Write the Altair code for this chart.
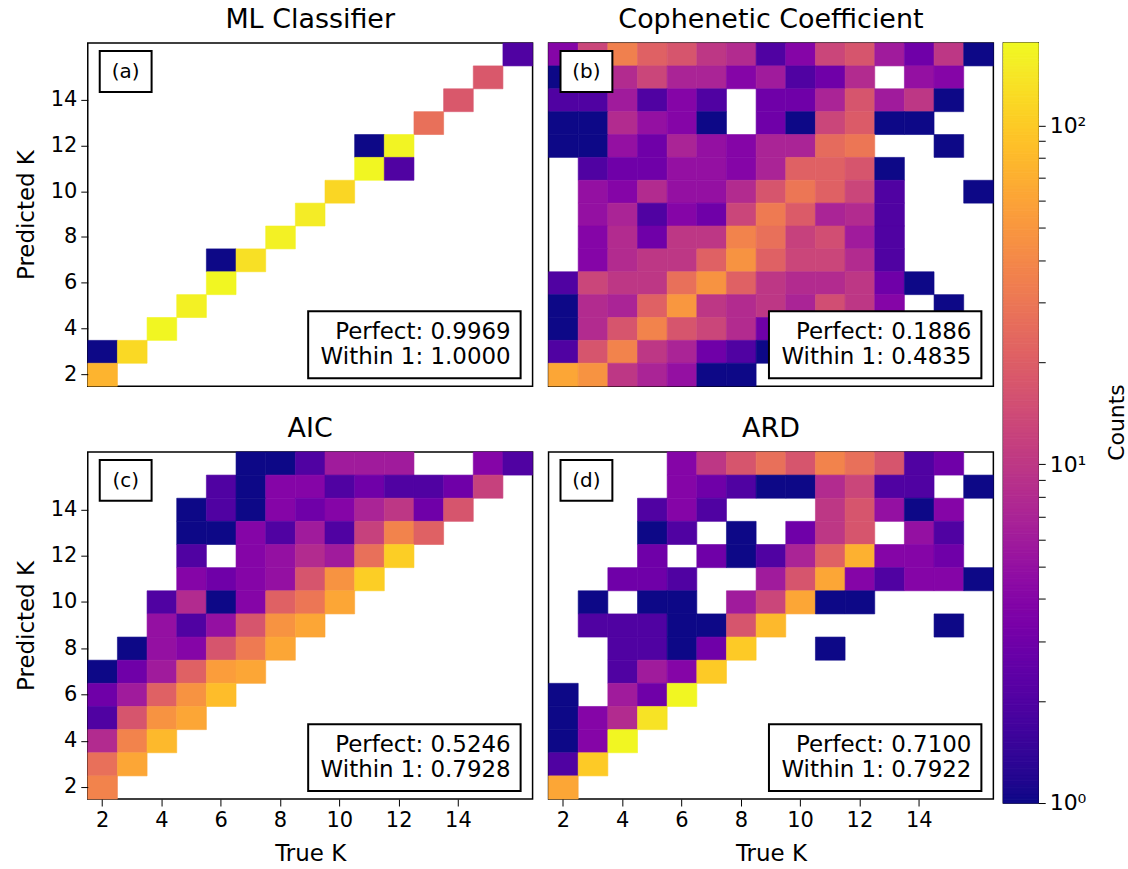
import altair as alt
import pandas as pd
import numpy as np

K = list(range(2, 17))
TICKS = [2, 4, 6, 8, 10, 12, 14]

# rows: predicted K = 16 (top) ... 2 (bottom); columns: true K = 2 ... 16
ml = [
    [0, 0, 0, 0, 0, 0, 0, 0, 0, 0, 0, 0, 0, 0, 2],
    [0, 0, 0, 0, 0, 0, 0, 0, 0, 0, 0, 0, 0, 18, 0],
    [0, 0, 0, 0, 0, 0, 0, 0, 0, 0, 0, 0, 18, 0, 0],
    [0, 0, 0, 0, 0, 0, 0, 0, 0, 0, 0, 27, 0, 0, 0],
    [0, 0, 0, 0, 0, 0, 0, 0, 0, 1, 165, 0, 0, 0, 0],
    [0, 0, 0, 0, 0, 0, 0, 0, 0, 170, 2, 0, 0, 0, 0],
    [0, 0, 0, 0, 0, 0, 0, 0, 115, 0, 0, 0, 0, 0, 0],
    [0, 0, 0, 0, 0, 0, 0, 150, 0, 0, 0, 0, 0, 0, 0],
    [0, 0, 0, 0, 0, 0, 160, 0, 0, 0, 0, 0, 0, 0, 0],
    [0, 0, 0, 0, 1, 130, 0, 0, 0, 0, 0, 0, 0, 0, 0],
    [0, 0, 0, 0, 170, 0, 0, 0, 0, 0, 0, 0, 0, 0, 0],
    [0, 0, 0, 160, 0, 0, 0, 0, 0, 0, 0, 0, 0, 0, 0],
    [0, 0, 170, 0, 0, 0, 0, 0, 0, 0, 0, 0, 0, 0, 0],
    [1, 120, 0, 0, 0, 0, 0, 0, 0, 0, 0, 0, 0, 0, 0],
    [75, 0, 0, 0, 0, 0, 0, 0, 0, 0, 0, 0, 0, 0, 0],
]

coph = [
    [4, 13, 35, 21, 17, 10, 8, 2, 4, 13, 17, 6, 3, 10, 1],
    [1, 4, 8, 13, 7, 7, 4, 6, 2, 3, 8, 0, 5, 4, 0],
    [2, 2, 6, 2, 4, 2, 0, 3, 3, 7, 17, 6, 10, 1, 0],
    [1, 1, 8, 5, 4, 1, 0, 3, 1, 13, 19, 1, 1, 0, 0],
    [1, 1, 5, 3, 7, 5, 4, 7, 7, 25, 30, 0, 0, 1, 0],
    [0, 2, 3, 3, 5, 5, 4, 7, 21, 21, 17, 1, 0, 0, 0],
    [0, 5, 4, 8, 5, 5, 8, 17, 30, 21, 13, 2, 0, 0, 1],
    [0, 5, 7, 2, 4, 3, 13, 32, 19, 7, 8, 2, 0, 0, 0],
    [0, 4, 8, 3, 10, 10, 37, 27, 12, 15, 6, 2, 0, 0, 0],
    [0, 4, 8, 10, 10, 21, 47, 21, 13, 13, 8, 2, 0, 0, 0],
    [2, 13, 10, 10, 27, 47, 21, 10, 8, 8, 10, 3, 1, 0, 0],
    [1, 8, 7, 21, 50, 10, 8, 10, 7, 15, 10, 4, 0, 1, 0],
    [1, 8, 17, 37, 17, 13, 8, 3, 4, 4, 3, 2, 1, 0, 0],
    [2, 17, 37, 10, 7, 3, 2, 1, 2, 2, 1, 1, 0, 0, 0],
    [62, 47, 10, 7, 5, 1, 1, 0, 0, 0, 0, 0, 0, 0, 0],
]

aic = [
    [0, 0, 0, 0, 0, 1, 1, 2, 6, 6, 6, 0, 0, 4, 2],
    [0, 0, 0, 0, 2, 1, 4, 4, 2, 3, 2, 2, 3, 12, 0],
    [0, 0, 0, 1, 2, 1, 4, 3, 4, 7, 10, 3, 17, 0, 0],
    [0, 0, 0, 1, 1, 4, 2, 6, 2, 12, 37, 21, 0, 0, 0],
    [0, 0, 0, 2, 0, 4, 5, 8, 6, 27, 105, 0, 0, 0, 0],
    [0, 0, 0, 4, 3, 4, 5, 17, 47, 105, 0, 0, 0, 0, 0],
    [0, 0, 2, 8, 1, 4, 21, 30, 62, 0, 0, 0, 0, 0, 0],
    [0, 0, 5, 2, 5, 17, 47, 62, 0, 0, 0, 0, 0, 0, 0],
    [0, 1, 5, 4, 17, 32, 62, 0, 0, 0, 0, 0, 0, 0, 0],
    [1, 3, 6, 21, 55, 62, 0, 0, 0, 0, 0, 0, 0, 0, 0],
    [3, 6, 21, 47, 85, 0, 0, 0, 0, 0, 0, 0, 0, 0, 0],
    [2, 17, 47, 62, 0, 0, 0, 0, 0, 0, 0, 0, 0, 0, 0],
    [8, 37, 80, 0, 0, 0, 0, 0, 0, 0, 0, 0, 0, 0, 0],
    [27, 62, 0, 0, 0, 0, 0, 0, 0, 0, 0, 0, 0, 0, 0],
    [37, 0, 0, 0, 0, 0, 0, 0, 0, 0, 0, 0, 0, 0, 0],
]

ard = [
    [0, 0, 0, 0, 4, 10, 17, 27, 17, 37, 27, 17, 2, 3, 0],
    [0, 0, 0, 0, 4, 3, 2, 1, 1, 8, 13, 2, 2, 0, 1],
    [0, 0, 0, 2, 4, 2, 0, 0, 0, 10, 17, 5, 1, 4, 0],
    [0, 0, 0, 1, 2, 0, 1, 0, 3, 10, 17, 0, 5, 2, 0],
    [0, 0, 0, 3, 0, 3, 1, 2, 7, 21, 72, 4, 4, 3, 0],
    [0, 0, 3, 3, 2, 0, 0, 6, 17, 62, 4, 2, 4, 4, 1],
    [0, 1, 0, 1, 1, 0, 6, 13, 62, 1, 1, 0, 0, 0, 0],
    [0, 2, 2, 2, 1, 1, 17, 80, 0, 0, 0, 0, 0, 1, 0],
    [0, 0, 2, 2, 1, 3, 100, 0, 0, 1, 0, 0, 0, 0, 0],
    [0, 0, 2, 6, 4, 100, 0, 0, 0, 0, 0, 0, 0, 0, 0],
    [1, 0, 6, 3, 170, 0, 0, 0, 0, 0, 0, 0, 0, 0, 0],
    [1, 4, 8, 135, 0, 0, 0, 0, 0, 0, 0, 0, 0, 0, 0],
    [1, 4, 170, 0, 0, 0, 0, 0, 0, 0, 0, 0, 0, 0, 0],
    [2, 100, 0, 0, 0, 0, 0, 0, 0, 0, 0, 0, 0, 0, 0],
    [62, 0, 0, 0, 0, 0, 0, 0, 0, 0, 0, 0, 0, 0, 0],
]

titles = ["ML Classifier", "Cophenetic Coefficient", "AIC", "ARD"]
labels = ["(a)", "(b)", "(c)", "(d)"]
perfect = ["0.9969", "0.1886", "0.5246", "0.7100"]
within1 = ["1.0000", "0.4835", "0.7928", "0.7922"]

FONT = "DejaVu Sans"
W = 446
VMAX = 175
color_scale = alt.Scale(type="log", domain=[1, VMAX], scheme="plasma")
TITLE_SIZE = 27


def to_df(mat):
    rows = []
    for i, row in enumerate(mat):
        pk = K[::-1][i]
        for j, v in enumerate(row):
            if v > 0:
                rows.append({"true": K[j], "pred": pk, "count": v})
    return pd.DataFrame(rows)


one = pd.DataFrame({"k": [0]})


def panel(mat, idx, show_x, show_y, H):
    xax = alt.Axis(values=TICKS, title="True K", labelAngle=0) if show_x else None
    yax = alt.Axis(values=TICKS, title="Predicted K") if show_y else None
    heat = alt.Chart(to_df(mat)).mark_rect(strokeWidth=0.6).encode(
        x=alt.X("true:O", scale=alt.Scale(domain=K, paddingInner=0, paddingOuter=0), axis=xax),
        y=alt.Y("pred:O", scale=alt.Scale(domain=K[::-1], paddingInner=0, paddingOuter=0), axis=yax),
        fill=alt.Fill("count:Q", scale=color_scale, legend=None),
        stroke=alt.Stroke("count:Q", scale=color_scale, legend=None),
    )
    lab_box = alt.Chart(one).mark_rect(fill="white", stroke="black", strokeWidth=2).encode(
        x=alt.value(12), x2=alt.value(64), y=alt.value(8), y2=alt.value(49)
    )
    lab_txt = alt.Chart(one).mark_text(font=FONT, fontSize=20, align="center", baseline="middle").encode(
        x=alt.value(38), y=alt.value(29), text=alt.value(labels[idx])
    )
    st_box = alt.Chart(one).mark_rect(fill="white", stroke="black", strokeWidth=2).encode(
        x=alt.value(221), x2=alt.value(434), y=alt.value(H - 75), y2=alt.value(H - 8)
    )
    st1 = alt.Chart(one).mark_text(font=FONT, fontSize=23, align="right", baseline="middle").encode(
        x=alt.value(424), y=alt.value(H - 54), text=alt.value("Perfect: " + perfect[idx])
    )
    st2 = alt.Chart(one).mark_text(font=FONT, fontSize=23, align="right", baseline="middle").encode(
        x=alt.value(424), y=alt.value(H - 29), text=alt.value("Within 1: " + within1[idx])
    )
    return alt.layer(heat, lab_box, lab_txt, st_box, st1, st2).properties(
        width=W, height=H,
        title=alt.TitleParams(titles[idx], fontSize=TITLE_SIZE, font=FONT, fontWeight="normal", offset=9),
    )


pa = panel(ml, 0, False, True, 344)
pb = panel(coph, 1, False, False, 344)
pc = panel(aic, 2, True, True, 348)
pd_ = panel(ard, 3, True, False, 348)

grid = alt.vconcat(
    alt.hconcat(pa, pb, spacing=12),
    alt.hconcat(pc, pd_, spacing=12),
    spacing=25,
)

# colour bar
edges = np.logspace(0, np.log10(VMAX), 241)
cb = pd.DataFrame({"lo": edges[:-1], "hi": edges[1:], "mid": np.sqrt(edges[:-1] * edges[1:])})
cb_ticks = [1, 2, 3, 4, 5, 6, 7, 8, 9, 10, 20, 30, 40, 50, 60, 70, 80, 90, 100]
colorbar = alt.Chart(cb).mark_rect(strokeWidth=1).encode(
    x=alt.value(0), x2=alt.value(35),
    y=alt.Y("lo:Q", scale=alt.Scale(type="log", domain=[1, VMAX], nice=False),
            axis=alt.Axis(orient="right", values=cb_ticks, title="Counts", titleAngle=270,
                          titleX=78, titleY=380, titleAlign="center", titleBaseline="middle",
                          labelExpr="datum.value == 1 ? '10⁰' : datum.value == 10 ? '10¹' : datum.value == 100 ? '10²' : ''",
                          labelFontSize=22, titleFontSize=22, tickSize=7, labelOverlap=False)),
    y2="hi:Q",
    fill=alt.Fill("mid:Q", scale=color_scale, legend=None),
    stroke=alt.Stroke("mid:Q", scale=color_scale, legend=None),
).properties(width=35, height=762,
             title=alt.TitleParams(" ", fontSize=TITLE_SIZE, font=FONT, offset=7))

chart = alt.hconcat(grid, colorbar, spacing=6).configure(
    font=FONT, padding={"left": 14, "top": 3, "right": 0, "bottom": 0}
).configure_view(stroke="black", strokeWidth=1.5).configure_axis(
    labelFont=FONT, titleFont=FONT, labelFontSize=21, titleFontSize=23,
    labelColor="black", titleColor="black", tickColor="black", tickSize=7,
    domain=False, grid=False, titleFontWeight="normal", labelPadding=4, titlePadding=12,
).configure_title(color="black")

chart.save("out.html", embed_options={"renderer": "svg", "actions": False})
